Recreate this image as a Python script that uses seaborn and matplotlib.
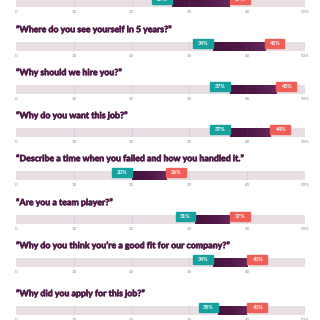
import numpy as np
import matplotlib
matplotlib.use("Agg")
import matplotlib.pyplot as plt
import matplotlib.patheffects as pe
import seaborn as sns
from matplotlib.patches import Rectangle

# Data
questions = [
    None,
    "\u201cWhere do you see yourself in 5 years?\u201d",
    "\u201cWhy should we hire you?\u201d",
    "\u201cWhy do you want this job?\u201d",
    "\u201cDescribe a time when you failed and how you handled it.\u201d",
    "\u201cAre you a team player?\u201d",
    "\u201cWhy do you think you\u2019re a good fit for our company?\u201d",
    "\u201cWhy did you apply for this job?\u201d",
]
low_values = [27, 34, 37, 37, 20, 31, 34, 35]
high_values = [37, 43, 45, 44, 26, 37, 40, 40]
tick_values = [0, 10, 20, 30, 40, 50]
tick_labels = ["0", "10", "20", "30", "40", "50%"]

# Layout (pixel tops of each bar)
bar_tops = [-2, 42, 85, 128, 171, 215, 258, 306]
BAR_H = 9
W, H = 320, 320
X0, X1 = 16, 305

TRACK = "#e8dfe5"
GRID = "#dccbd6"
TEAL = "#17a2a0"
CORAL = "#ef5f58"
TITLE_C = "#4f1c47"

sns.set_style("white")
plt.rcParams['font.family'] = ['Lato', 'DejaVu Sans']

fig = plt.figure(figsize=(3.2, 3.2), dpi=100)
fig.patch.set_facecolor("white")

grad = np.linspace(0, 1, 256).reshape(1, -1)
cmap = matplotlib.colors.LinearSegmentedColormap.from_list("bar", ["#46133d", "#4e1845", "#65275a"])

for i, (q, lo, hi, top) in enumerate(zip(questions, low_values, high_values, bar_tops)):
    ax = fig.add_axes([X0 / W, 1 - (top + BAR_H) / H, (X1 - X0) / W, BAR_H / H])
    sns.barplot(x=[50], y=[0], orient="h", color=TRACK, width=1, ax=ax,
                saturation=1, linewidth=0)
    for g in tick_values[1:-1]:
        ax.axvline(g, color=GRID, lw=0.6, zorder=1)
    ax.imshow(grad, extent=[lo, hi, -0.5, 0.5], aspect="auto", cmap=cmap, zorder=3)
    for g in tick_values[1:-1]:
        if lo < g < hi:
            ax.axvline(g, color="#6a3a62", lw=0.4, alpha=0.5, zorder=4)
    ax.set_xlim(0, 50)
    ax.set_ylim(-0.5, 0.5)

    bw = 3.4
    ax.add_patch(Rectangle((lo - bw, -0.22), bw, 1.05, color=TEAL, clip_on=False, zorder=5))
    ax.add_patch(Rectangle((hi, -0.22), bw, 1.05, color=CORAL, clip_on=False, zorder=5))
    ax.text(lo - bw / 2, 0.3, f"{lo}%", color="white", fontsize=3.9, fontweight="bold",
            ha="center", va="center", zorder=6, clip_on=False)
    ax.text(hi + bw / 2, 0.3, f"{hi}%", color="white", fontsize=3.9, fontweight="bold",
            ha="center", va="center", zorder=6, clip_on=False)

    if q is not None:
        ax.text(0, 0.5 + 12.5 / BAR_H, q, color=TITLE_C, fontsize=6.3, fontweight="black",
                ha="left", va="center", clip_on=False,
                path_effects=[pe.withStroke(linewidth=0.35, foreground=TITLE_C)])

    if i == 6:
        ax.set_xticks(tick_values[:-1], tick_labels[:-1])
    else:
        ax.set_xticks(tick_values, tick_labels)
    ax.set_yticks([])
    ax.tick_params(axis="x", length=0, pad=2.2, labelsize=3.2, labelcolor="#888888")
    ax.set_xlabel("")
    ax.set_ylabel("")
    for s in ax.spines.values():
        s.set_visible(False)

fig.savefig("out.png", dpi=100, facecolor="white")
